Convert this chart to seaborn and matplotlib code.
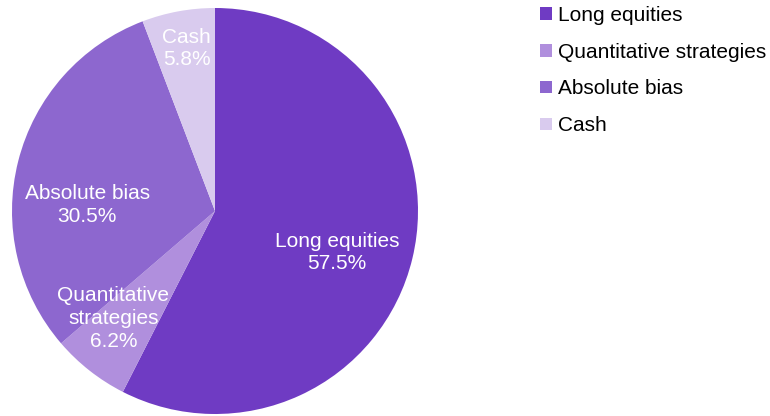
import matplotlib
matplotlib.use("Agg")
import matplotlib.pyplot as plt
import seaborn as sns

# Datos del gráfico
categorias = ["Long equities", "Quantitative strategies", "Absolute bias", "Cash"]
valores = [57.5, 6.2, 30.5, 5.8]
etiquetas = ["Long equities\n57.5%", "Quantitative\nstrategies\n6.2%", "Absolute bias\n30.5%", "Cash\n5.8%"]
colores = ["#6f3bc3", "#b08fdd", "#8d67cf", "#d9cbee"]

# Posición de cada etiqueta dentro del pastel (coordenadas del eje)
pos_etiquetas = [(0.60, -0.205), (-0.50, -0.53), (-0.63, 0.03), (-0.14, 0.80)]

sns.set_theme(style="white")
plt.rcParams["font.family"] = ["Liberation Sans", "DejaVu Sans"]

fig = plt.figure(figsize=(7.7, 4.16), dpi=100)
ax = fig.add_axes([12 / 770, 2 / 416, 406 / 770, 406 / 416])

wedges, _ = ax.pie(valores, colors=colores, startangle=90, counterclock=False,
                   radius=1, wedgeprops=dict(linewidth=0))
ax.set_xlim(-1, 1)
ax.set_ylim(-1, 1)
ax.set_aspect("equal")
ax.axis("off")

for txt, (x, y) in zip(etiquetas, pos_etiquetas):
    ax.text(x, y, txt, ha="center", va="center", color="white", fontsize=15,
            linespacing=1.25)

leg = fig.legend(wedges, categorias, loc="upper left", bbox_to_anchor=(538 / 770, 1 - 4 / 416),
                 frameon=False, fontsize=15, handlelength=0.55, handleheight=0.55,
                 handletextpad=0.3, labelspacing=0.85, borderaxespad=0, borderpad=0.1,
                 labelcolor="black")

fig.savefig("out.png", dpi=100)
